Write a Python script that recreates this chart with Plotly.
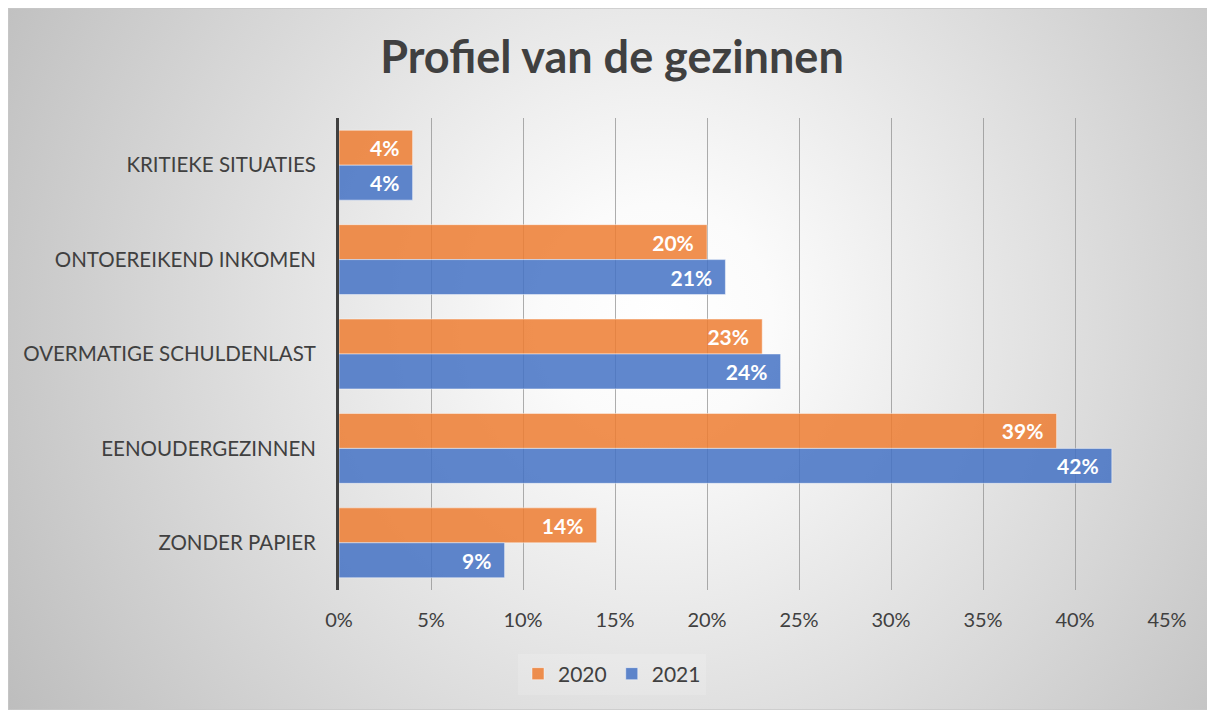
import plotly.graph_objects as go
import urllib.parse

# Gegevens
categorieen = ["KRITIEKE SITUATIES", "ONTOEREIKEND INKOMEN", "OVERMATIGE SCHULDENLAST",
               "EENOUDERGEZINNEN", "ZONDER PAPIER"]
waarden_2020 = [4, 20, 23, 39, 14]
waarden_2021 = [4, 21, 24, 42, 9]
x_ticks = [0, 5, 10, 15, 20, 25, 30, 35, 40, 45]
x_ticklabels = [f"{v}%" for v in x_ticks]

# de pagina heeft een marge van 8px rond de figuur
W, H = 1207, 702
ML, MR, MT, MB = 331, 48, 110, 120
PW, PH = W - ML - MR, H - MT - MB

# Achtergrond: radiaal verloop zoals in Excel
svg = (
    f"<svg xmlns='http://www.w3.org/2000/svg' width='{W}' height='{H}' viewBox='0 0 {W} {H}'>"
    "<defs><radialGradient id='g' gradientUnits='userSpaceOnUse' cx='650' cy='310' r='760'>"
    "<stop offset='0' stop-color='#ffffff'/><stop offset='0.15' stop-color='#fbfbfb'/>"
    "<stop offset='1' stop-color='#bdbdbd'/>"
    "</radialGradient></defs>"
    f"<rect x='0' y='0' width='{W}' height='{H}' fill='url(#g)' stroke='#c8c8c8' stroke-width='1.5'/>"
    "</svg>"
)
bg_src = "data:image/svg+xml;charset=utf-8," + urllib.parse.quote(svg)

pad = "\u00a0\u00a0"
label_font = dict(color="white", size=21, family="Lato", weight="bold")

fig = go.Figure()
fig.add_trace(go.Bar(
    y=categorieen, x=waarden_2020, name="2020", orientation="h",
    marker=dict(color="rgba(237,125,49,0.85)", line=dict(color="rgba(255,255,255,0.45)", width=1)),
    text=[f"{v}%{pad}" for v in waarden_2020], textposition="inside", insidetextanchor="end",
    textfont=label_font,
))
fig.add_trace(go.Bar(
    y=categorieen, x=waarden_2021, name="2021", orientation="h",
    marker=dict(color="rgba(68,114,196,0.85)", line=dict(color="rgba(255,255,255,0.45)", width=1)),
    text=[f"{v}%{pad}" for v in waarden_2021], textposition="inside", insidetextanchor="end",
    textfont=label_font,
))

fig.add_layout_image(dict(
    source=bg_src, xref="paper", yref="paper",
    x=-ML / PW, y=1 + MT / PH, sizex=W / PW, sizey=H / PH,
    xanchor="left", yanchor="top", sizing="stretch", layer="below",
))

fig.update_layout(
    width=W, height=H,
    margin=dict(l=ML, r=MR, t=MT, b=MB),
    paper_bgcolor="white", plot_bgcolor="rgba(0,0,0,0)",
    barmode="group", bargap=0.26, bargroupgap=0,
    uniformtext=dict(minsize=21, mode="show"),
    font=dict(family="Lato", color="#404040"),
    title=dict(text="<b>Profiel van de gezinnen</b>", x=604 / W, xref="container", xanchor="center",
               y=1 - 49 / H, yanchor="middle", font=dict(size=45, color="#404040")),
    legend=dict(orientation="h", x=(604 - ML) / PW, xanchor="center",
                y=(582 - 666) / PH, yanchor="middle",
                bgcolor="rgba(255,255,255,0.15)", font=dict(size=21, color="#404040"),
                tracegroupgap=0),
    xaxis=dict(range=[0, 45], tickvals=x_ticks, ticktext=x_ticklabels, showgrid=True,
               gridcolor="rgba(140,140,140,0.7)", gridwidth=1, zeroline=False,
               tickfont=dict(size=20, color="#404040"), ticklabelstandoff=16,
               fixedrange=True),
    yaxis=dict(autorange="reversed", showline=True, linecolor="#404040", linewidth=3,
               tickfont=dict(size=20.5, color="#404040"), ticklabelstandoff=16,
               showgrid=False),
)

fig.write_html("out.html")
